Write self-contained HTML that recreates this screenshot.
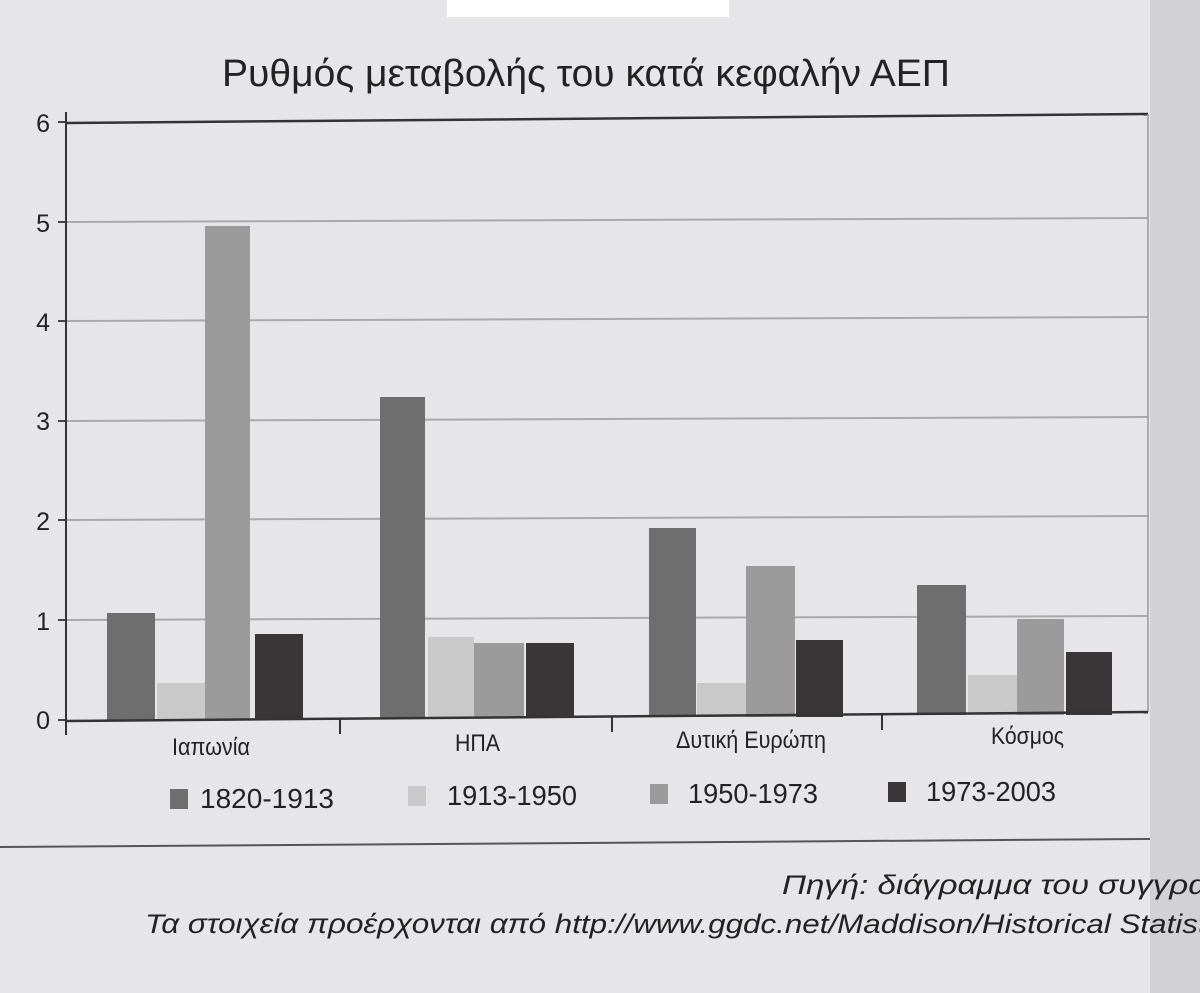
<!DOCTYPE html>
<html><head><meta charset="utf-8"><style>
html,body{margin:0;padding:0;width:1200px;height:993px;overflow:hidden;background:#e6e6e8}
svg{display:block}
text{font-family:"Liberation Sans","DejaVu Sans",sans-serif}
</style></head><body>
<svg width="1200" height="993" viewBox="0 0 1200 993">
<rect width="1200" height="993" fill="#e6e6e8"/>
<rect x="1150" y="0" width="50" height="993" fill="#d2d2d4"/>
<rect x="447" y="0" width="282" height="17" fill="#ffffff"/>
<text x="222" y="86" font-size="38" textLength="728" lengthAdjust="spacingAndGlyphs" fill="#222">Ρυθμός μεταβολής του κατά κεφαλήν ΑΕΠ</text>
<g stroke="#a9a9ab" stroke-width="2">
<line x1="66" y1="222" x2="1148" y2="218"/>
<line x1="66" y1="321" x2="1148" y2="317"/>
<line x1="66" y1="421" x2="1148" y2="417"/>
<line x1="66" y1="520" x2="1148" y2="516"/>
<line x1="66" y1="620" x2="1148" y2="616"/>
</g>
<line x1="66" y1="123" x2="1148" y2="114" stroke="#333" stroke-width="2.5"/>
<line x1="1148" y1="114" x2="1148" y2="712" stroke="#999" stroke-width="1.5"/>
<g font-size="25" fill="#222" text-anchor="end">
<text x="50" y="132">6</text><text x="50" y="232">5</text><text x="50" y="331">4</text>
<text x="50" y="430">3</text><text x="50" y="530">2</text><text x="50" y="630">1</text><text x="50" y="729">0</text>
</g>
<g stroke="#444" stroke-width="2">
<line x1="58" y1="122" x2="66" y2="122"/><line x1="58" y1="222" x2="66" y2="222"/>
<line x1="58" y1="321" x2="66" y2="321"/><line x1="58" y1="421" x2="66" y2="421"/>
<line x1="58" y1="520" x2="66" y2="520"/><line x1="58" y1="620" x2="66" y2="620"/>
<line x1="58" y1="720" x2="66" y2="720"/>
</g>
<g>
<rect x="107" y="613" width="48" height="107" fill="#6e6e6e"/>
<rect x="157" y="683" width="48" height="37" fill="#c9c9c9"/>
<rect x="205" y="226" width="45" height="494" fill="#9b9b9b"/>
<rect x="255" y="634" width="48" height="86" fill="#3a3536"/>
<rect x="380" y="397" width="45" height="321" fill="#6e6e6e"/>
<rect x="428" y="637" width="46" height="81" fill="#c9c9c9"/>
<rect x="474" y="643" width="50" height="75" fill="#9b9b9b"/>
<rect x="526" y="643" width="48" height="75" fill="#3a3536"/>
<rect x="649" y="528" width="47" height="189" fill="#6e6e6e"/>
<rect x="697" y="683" width="49" height="34" fill="#c9c9c9"/>
<rect x="746" y="566" width="49" height="151" fill="#9b9b9b"/>
<rect x="796" y="640" width="47" height="77" fill="#3a3536"/>
<rect x="917" y="585" width="49" height="130" fill="#6e6e6e"/>
<rect x="968" y="675" width="49" height="40" fill="#c9c9c9"/>
<rect x="1017" y="619" width="47" height="96" fill="#9b9b9b"/>
<rect x="1066" y="652" width="46" height="63" fill="#3a3536"/>
</g>
<line x1="66" y1="721" x2="1148" y2="712" stroke="#333" stroke-width="2.5"/>
<line x1="66" y1="112" x2="66" y2="735" stroke="#333" stroke-width="2"/>
<g stroke="#333" stroke-width="2">
<line x1="340" y1="718" x2="340" y2="734"/><line x1="612" y1="716" x2="612" y2="732"/><line x1="882" y1="714" x2="882" y2="730"/>
</g>
<g font-size="24" fill="#222">
<text x="172" y="755" textLength="78" lengthAdjust="spacingAndGlyphs">Ιαπωνία</text>
<text x="455" y="751" textLength="45" lengthAdjust="spacingAndGlyphs">ΗΠΑ</text>
<text x="676" y="748" textLength="150" lengthAdjust="spacingAndGlyphs">Δυτική Ευρώπη</text>
<text x="991" y="744" textLength="73" lengthAdjust="spacingAndGlyphs">Κόσμος</text>
</g>
<g font-size="28" fill="#222">
<rect x="170" y="789" width="18" height="20" fill="#6e6e6e"/><text x="200" y="808" textLength="134" lengthAdjust="spacingAndGlyphs">1820-1913</text>
<rect x="408" y="786" width="18" height="20" fill="#c9c9c9"/><text x="447" y="805" textLength="130" lengthAdjust="spacingAndGlyphs">1913-1950</text>
<rect x="650" y="784" width="18" height="20" fill="#9b9b9b"/><text x="688" y="803" textLength="130" lengthAdjust="spacingAndGlyphs">1950-1973</text>
<rect x="888" y="782" width="18" height="20" fill="#3a3536"/><text x="926" y="801" textLength="130" lengthAdjust="spacingAndGlyphs">1973-2003</text>
</g>
<line x1="0" y1="847" x2="1150" y2="839" stroke="#555" stroke-width="2"/>
<g font-size="27" fill="#222" font-style="italic">
<text x="782" y="894" textLength="480" lengthAdjust="spacingAndGlyphs">Πηγή: διάγραμμα του συγγραφέα</text>
<text x="145" y="933" textLength="1100" lengthAdjust="spacingAndGlyphs">Τα στοιχεία προέρχονται από http://www.ggdc.net/Maddison/Historical Statistics</text>
</g>
</svg>
</body></html>
